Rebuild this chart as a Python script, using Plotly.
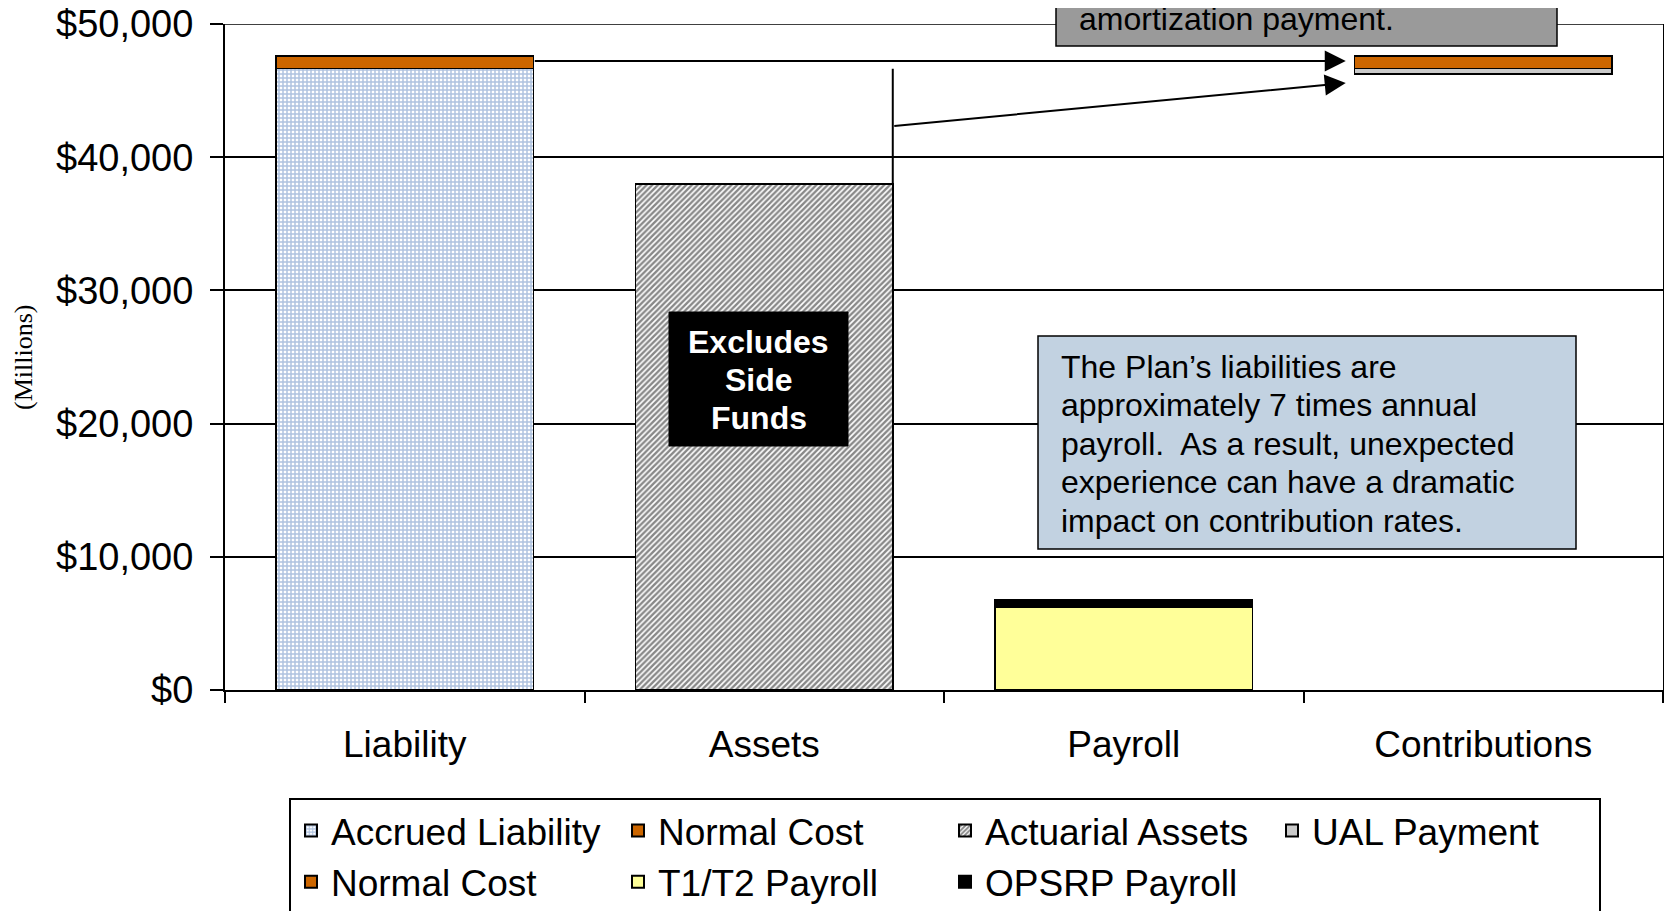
import plotly.graph_objects as go

# ---------------- data (millions of dollars) ----------------
categories = ["Liability", "Assets", "Payroll", "Contributions"]

contrib_base = [None, None, None, 46260]          # invisible spacer
accrued_liability = [46670, None, None, None]
normal_cost_liab = [930, None, None, None]
actuarial_assets = [None, 38000, None, None]
ual_payment = [None, None, None, 410]
normal_cost_contrib = [None, None, None, 930]
t1t2_payroll = [None, None, 6250, None]
opsrp_payroll = [None, None, 560, None]

y_ticks = [0, 10000, 20000, 30000, 40000, 50000]
y_tick_text = ["${:,}".format(v) for v in y_ticks]

note_top = "amortization payment."
note_side = ["Excludes", "Side", "Funds"]
note_blue = [
    "The Plan\u2019s liabilities are",
    "approximately 7 times annual",
    "payroll.  As a result, unexpected",
    "experience can have a dramatic",
    "impact on contribution rates.",
]

# ---------------- geometry helpers ----------------
OFF = 8                      # default page body margin
SW, SH = 1672, 911           # screen size
W, H = SW - OFF, SH - OFF    # figure size
L, R, T, B = 225 - OFF, 9, 24 - OFF, SH - 690
PW, PH = W - L - R, H - T - B
BARGAP = 0.285
HALF = (1 - BARGAP) / 2


def px(xs):
    return (xs - OFF - L) / PW


def py(ys):
    return (H - B - (ys - OFF)) / PH


FONT = "Arial, Liberation Sans, sans-serif"
ORANGE = "#CC6600"
LINE = dict(color="black", width=1.5)

fig = go.Figure()

fig.add_bar(x=categories, y=contrib_base, marker=dict(color="rgba(0,0,0,0)", line=dict(width=0)),
            showlegend=False, hoverinfo="skip")
fig.add_bar(x=categories, y=accrued_liability, name="Accrued Liability",
            marker=dict(color="white", line=LINE,
                        pattern=dict(shape="+", fgcolor="#5E85C0", bgcolor="white", size=4, solidity=0.6)))
fig.add_bar(x=categories, y=normal_cost_liab, name="Normal Cost", marker=dict(color=ORANGE, line=LINE))
fig.add_bar(x=categories, y=actuarial_assets, name="Actuarial Assets",
            marker=dict(color="white", line=LINE,
                        pattern=dict(shape="/", fgcolor="#111111", bgcolor="white", size=4, solidity=0.6)))
fig.add_bar(x=categories, y=ual_payment, name="UAL Payment", marker=dict(color="#CACACA", line=LINE))
fig.add_bar(x=categories, y=normal_cost_contrib, name="Normal Cost", marker=dict(color=ORANGE, line=LINE))
fig.add_bar(x=categories, y=t1t2_payroll, name="T1/T2 Payroll", marker=dict(color="#FFFF99", line=LINE))
fig.add_bar(x=categories, y=opsrp_payroll, name="OPSRP Payroll", marker=dict(color="black", line=LINE))

# ---------------- connector lines & arrows ----------------
arrow1_y = accrued_liability[0] + normal_cost_liab[0] * 0.6
tip_x = 3 - HALF - 0.025
assets_right = 1 + HALF

shapes = []
# top border / 50,000 gridline
shapes.append(dict(type="line", xref="paper", yref="y", x0=0, x1=1, y0=y_ticks[-1], y1=y_ticks[-1],
                   line=dict(color="black", width=1.5), layer="below"))
# vertical line up from the assets bar
shapes.append(dict(type="line", xref="x", yref="y", x0=assets_right, x1=assets_right,
                   y0=actuarial_assets[1], y1=46640, line=dict(color="black", width=2)))
# text boxes
shapes.append(dict(type="rect", xref="paper", yref="paper", x0=px(1056), x1=px(1557),
                   y0=py(46), y1=py(-60), fillcolor="#9A9A9A", line=dict(color="black", width=1.5)))
shapes.append(dict(type="rect", xref="paper", yref="paper", x0=px(669), x1=px(848),
                   y0=py(446), y1=py(312), fillcolor="black", line=dict(color="black", width=1)))
shapes.append(dict(type="rect", xref="paper", yref="paper", x0=px(1038), x1=px(1576),
                   y0=py(549), y1=py(336), fillcolor="#C2D2E1", line=dict(color="black", width=1.5)))

annotations = []
arrow = dict(showarrow=True, text="", arrowhead=2, arrowsize=2.1, arrowwidth=2,
             arrowcolor="black", standoff=0, startstandoff=0, xref="x", yref="y", axref="x", ayref="y")
annotations.append(dict(x=tip_x, y=arrow1_y, ax=HALF, ay=arrow1_y, **arrow))
annotations.append(dict(x=tip_x, y=45570, ax=assets_right, ay=42340, **arrow))

annotations.append(dict(xref="paper", yref="paper", x=px(1077), y=py(19), xanchor="left", yanchor="middle",
                        text=note_top, showarrow=False, font=dict(family=FONT, size=32, color="black")))
for i, t in enumerate(note_side):
    annotations.append(dict(xref="paper", yref="paper", x=px(758.5), y=py(342 + 38 * i), xanchor="center",
                            yanchor="middle", text="<b>%s</b>" % t, showarrow=False,
                            font=dict(family=FONT, size=32, color="white")))
for i, t in enumerate(note_blue):
    annotations.append(dict(xref="paper", yref="paper", x=px(1059), y=py(367 + 38.4 * i), xanchor="left",
                            yanchor="middle", text=t, showarrow=False,
                            font=dict(family=FONT, size=32, color="black")))
annotations.append(dict(xref="paper", yref="paper", x=px(23), y=0.5, text="(Millions)", textangle=-90,
                        showarrow=False, xanchor="center", yanchor="middle",
                        font=dict(family="Times New Roman, Liberation Serif, serif", size=26, color="black")))

fig.update_layout(
    width=W, height=H,
    margin=dict(l=L, r=R, t=T, b=B, autoexpand=False),
    paper_bgcolor="white", plot_bgcolor="white",
    barmode="stack", bargap=BARGAP,
    font=dict(family=FONT, color="black"),
    shapes=shapes, annotations=annotations,
    legend=dict(orientation="h", x=px(289), xanchor="left", y=py(798), yanchor="top",
                traceorder="normal",
                font=dict(family=FONT, size=37, color="black"),
                bordercolor="black", borderwidth=2, bgcolor="white",
                entrywidth=282, tracegroupgap=0, itemsizing="constant"),
)
fig.update_xaxes(type="category", categoryorder="array", categoryarray=categories,
                 range=[-0.5, 3.5], tickson="boundaries", ticks="outside", ticklen=11, tickwidth=1.5,
                 tickcolor="black", showline=True, linecolor="black", linewidth=2, showgrid=False,
                 tickfont=dict(family=FONT, size=37), ticklabelstandoff=21)
fig.update_yaxes(range=[0, 50000], tickvals=y_ticks, ticktext=y_tick_text, ticks="outside",
                 ticklen=13, tickwidth=1.5, tickcolor="black", showline=True, linecolor="black", linewidth=2,
                 mirror=True, showgrid=True, gridcolor="black", gridwidth=1.5, zeroline=False,
                 ticklabeloverflow="allow",
                 tickfont=dict(family=FONT, size=38), ticklabelstandoff=9)

fig.write_html("out.html")
